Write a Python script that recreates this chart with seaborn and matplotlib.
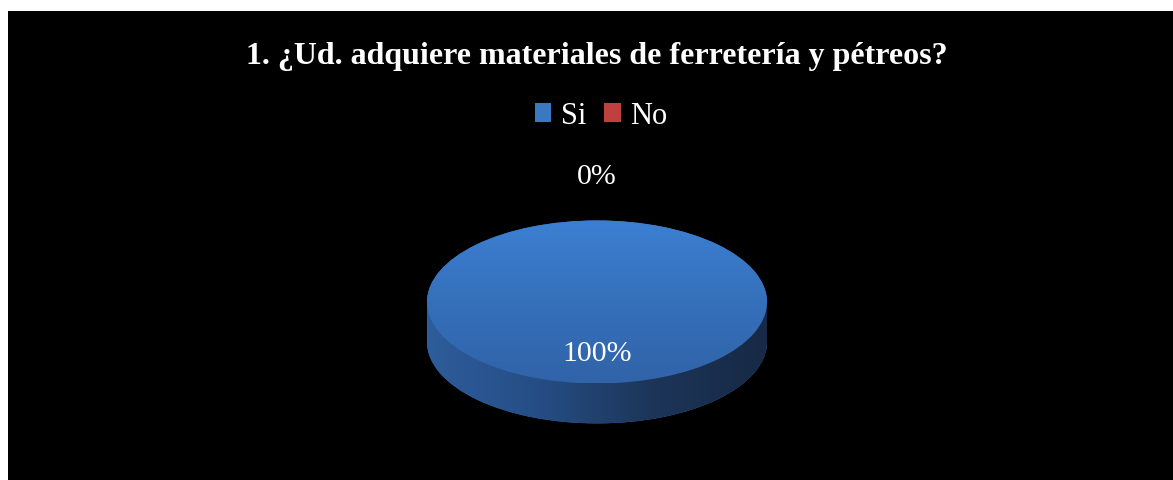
import matplotlib
matplotlib.use("Agg")
import matplotlib.pyplot as plt
import seaborn as sns
import numpy as np
from matplotlib.patches import Rectangle
from matplotlib.colors import LinearSegmentedColormap

# datos de la encuesta
categorias = ["Si", "No"]
porcentajes = [100, 0]
titulo = "1. ¿Ud. adquiere materiales de ferretería y pétreos?"

colores = ["#3a78c4", "#c0403d"]

sns.set_style("white")
plt.rcParams['font.family'] = ['Liberation Serif', 'DejaVu Serif']

W, H = 1173, 481
fig = plt.figure(figsize=(W / 100, H / 100), dpi=100)
fig.patch.set_facecolor('white')
fig.add_artist(Rectangle((8 / W, 0), 1 - 8 / W, 469 / H, transform=fig.transFigure,
                         facecolor='black', edgecolor='none', zorder=0))

# ejes del pastel (elipse: radio x 170px, radio y 81.5px)
ax = fig.add_axes([384.5 / W, 1 - 449.7 / H, 425 / W, 248.6 / H])
ax.set_facecolor('none')
prof = 0.49

# cara lateral
lado = LinearSegmentedColormap.from_list(
    "lado", sns.blend_palette(["#2e5d9b", "#254d84", "#1c3558", "#172945"], 4))
cuñas_b, _ = ax.pie(porcentajes, colors=colores, startangle=90, counterclock=False,
                    center=(0, -prof), radius=1, wedgeprops=dict(linewidth=0))
rect = Rectangle((-1, -prof), 2, prof, facecolor=colores[0], linewidth=0)
ax.add_patch(rect)
grad = np.linspace(0, 1, 256).reshape(1, -1)
for p in [cuñas_b[0], rect]:
    im = ax.imshow(grad, cmap=lado, extent=(-1, 1, -prof - 1, 0), aspect='auto', zorder=1.5)
    im.set_clip_path(p)

# cara superior
cuñas, textos, pct = ax.pie(porcentajes, colors=colores, startangle=90, counterclock=False,
                            autopct='%1.0f%%', pctdistance=0.62, radius=1,
                            wedgeprops=dict(linewidth=0),
                            textprops=dict(color='white', fontsize=21.5))
arriba = LinearSegmentedColormap.from_list(
    "arriba", sns.blend_palette(["#3163a8", "#3570bb", "#3c7fd2"], 3))
im = ax.imshow(np.linspace(0, 1, 256).reshape(-1, 1), cmap=arriba, origin='lower',
               extent=(-1, 1, -1, 1), aspect='auto', zorder=2.5)
im.set_clip_path(cuñas[0])
for t in pct:
    t.set_zorder(5)
pct[1].set_position((0, 1.54))

ax.set_xlim(-1.25, 1.25)
ax.set_ylim(-1.8, 1.25)
ax.set_aspect('auto')
ax.axis('off')

fig.text(597 / W, 1 - 57 / H, titulo, color='white', fontsize=23, fontweight='bold',
         ha='center', va='center')
fig.legend(cuñas, categorias, loc='center', bbox_to_anchor=(601 / W, 1 - 117 / H), ncol=2,
           frameon=False, labelcolor='white', prop=dict(size=22),
           handlelength=0.55, handleheight=0.55, handletextpad=0.3, columnspacing=0.6)

fig.savefig("out.png", dpi=100, facecolor=fig.get_facecolor())
